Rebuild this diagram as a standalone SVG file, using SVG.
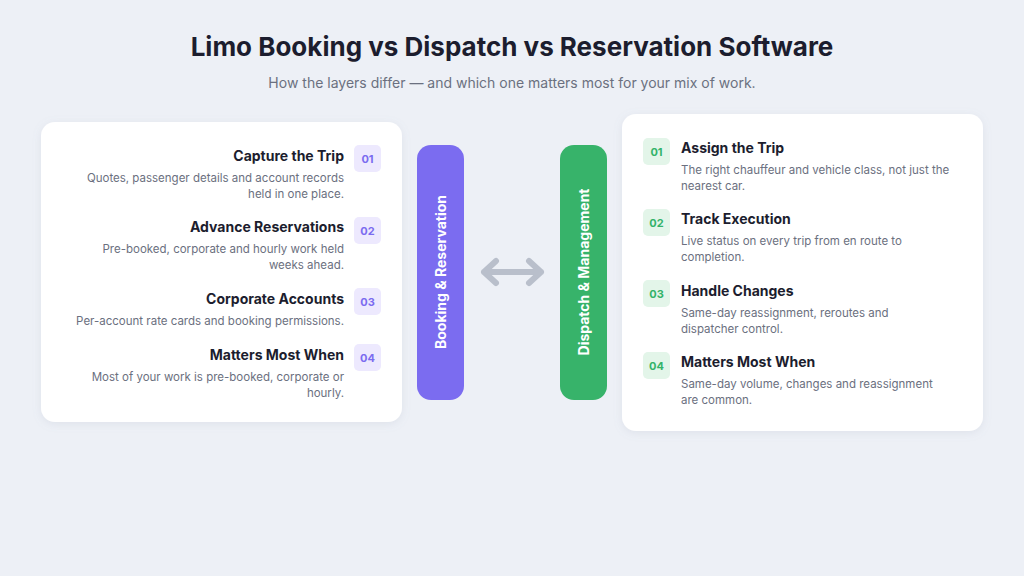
<svg xmlns="http://www.w3.org/2000/svg" width="1024" height="576" viewBox="0 0 1024 576">
<style>
text{font-family:Inter,"Noto Sans",sans-serif}
.t{font-size:14px;font-weight:700;fill:#1c1d2e}
.d{font-size:11.5px;fill:#6b7080}
.card{fill:#fff;filter:url(#sh)}
.bp{fill:#ede9fe}.bg{fill:#e3f5e9}
.np{font-size:11px;font-weight:700;fill:#7b6cf0;text-anchor:middle}
.ng{font-size:11px;font-weight:700;fill:#34b36a;text-anchor:middle}
.r{text-anchor:end}
.bar{font-size:14px;font-weight:700;fill:#fff;text-anchor:middle}
</style>
<defs><filter id="sh" x="-10%" y="-10%" width="120%" height="120%"><feDropShadow dx="0" dy="2" stdDeviation="4" flood-color="#8890a8" flood-opacity="0.15"/></filter></defs>
<rect width="1024" height="576" fill="#edf0f6"/>
<text x="512" y="56" text-anchor="middle" font-size="26" font-weight="700" fill="#1c1d2e">Limo Booking vs Dispatch vs Reservation Software</text>
<text x="512" y="88" text-anchor="middle" font-size="14" fill="#6b7080">How the layers differ — and which one matters most for your mix of work.</text>
<g id="left-card">
<rect class="card" x="41" y="122" width="361" height="300" rx="14"/>
<text class="t r" x="344" y="161">Capture the Trip</text>
<rect class="bp" x="354" y="145" width="27" height="27" rx="5"/><text class="np" x="367.5" y="163">01</text>
<text class="d r" x="344" y="182">Quotes, passenger details and account records</text>
<text class="d r" x="344" y="198">held in one place.</text>
<text class="t r" x="344" y="232">Advance Reservations</text>
<rect class="bp" x="354" y="217" width="27" height="27" rx="5"/><text class="np" x="367.5" y="235">02</text>
<text class="d r" x="344" y="253">Pre-booked, corporate and hourly work held</text>
<text class="d r" x="344" y="269">weeks ahead.</text>
<text class="t r" x="344" y="304">Corporate Accounts</text>
<rect class="bp" x="354" y="288" width="27" height="27" rx="5"/><text class="np" x="367.5" y="306">03</text>
<text class="d r" x="344" y="325">Per-account rate cards and booking permissions.</text>
<text class="t r" x="344" y="360">Matters Most When</text>
<rect class="bp" x="354" y="344" width="27" height="27" rx="5"/><text class="np" x="367.5" y="362">04</text>
<text class="d r" x="344" y="381">Most of your work is pre-booked, corporate or</text>
<text class="d r" x="344" y="397">hourly.</text>
</g>
<g id="booking-bar">
<rect x="417" y="145" width="47" height="255" rx="14" fill="#7b6cf0"/>
<text class="bar" transform="translate(446,272) rotate(-90)">Booking &amp; Reservation</text>
</g>
<g id="dispatch-bar">
<rect x="560" y="145" width="47" height="255" rx="14" fill="#37b36a"/>
<text class="bar" transform="translate(589,272) rotate(-90)">Dispatch &amp; Management</text>
</g>
<g id="connectors" fill="none" stroke="#b9bfcb" stroke-width="6" stroke-linecap="round" stroke-linejoin="round">
<path d="M484 272H541M496 261L484 272L496 283M529 261L541 272L529 283"/>
</g>
<g id="right-card">
<rect class="card" x="622" y="114" width="361" height="317" rx="14"/>
<rect class="bg" x="643" y="138" width="27" height="27" rx="5"/><text class="ng" x="656.5" y="156">01</text>
<text class="t" x="681" y="153">Assign the Trip</text>
<text class="d" x="681" y="174">The right chauffeur and vehicle class, not just the</text>
<text class="d" x="681" y="190">nearest car.</text>
<rect class="bg" x="643" y="209" width="27" height="27" rx="5"/><text class="ng" x="656.5" y="227">02</text>
<text class="t" x="681" y="224">Track Execution</text>
<text class="d" x="681" y="245">Live status on every trip from en route to</text>
<text class="d" x="681" y="261">completion.</text>
<rect class="bg" x="643" y="280" width="27" height="27" rx="5"/><text class="ng" x="656.5" y="298">03</text>
<text class="t" x="681" y="296">Handle Changes</text>
<text class="d" x="681" y="317">Same-day reassignment, reroutes and</text>
<text class="d" x="681" y="333">dispatcher control.</text>
<rect class="bg" x="643" y="352" width="27" height="27" rx="5"/><text class="ng" x="656.5" y="370">04</text>
<text class="t" x="681" y="367">Matters Most When</text>
<text class="d" x="681" y="388">Same-day volume, changes and reassignment</text>
<text class="d" x="681" y="404">are common.</text>
</g>
</svg>
